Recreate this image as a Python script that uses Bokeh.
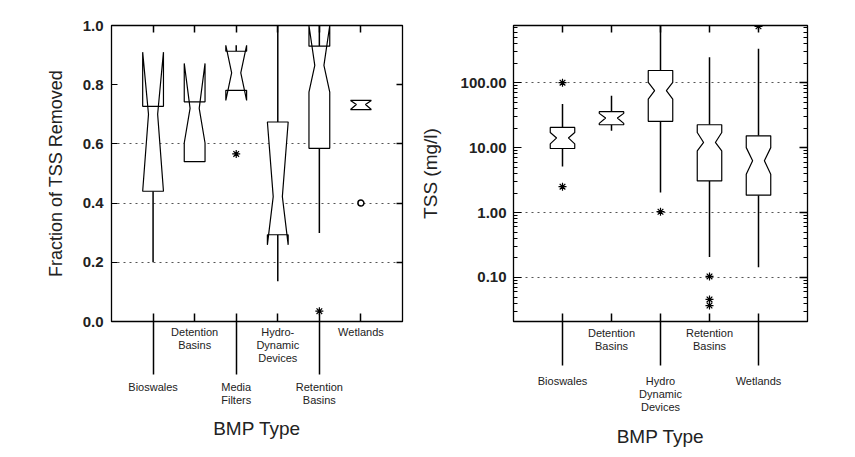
from bokeh.plotting import figure
from bokeh.layouts import row
from bokeh.models import (Range1d, FixedTicker, PrintfTickFormatter, LinearAxis,
                          LogAxis)
from bokeh.embed import file_html
from bokeh.resources import INLINE

FONT = "Liberation Sans"

# ---------------- Left panel data: fraction of TSS removed ----------------
left_types = ["Bioswales", "Detention\nBasins", "Media\nFilters",
              "Hydro-\nDynamic\nDevices", "Retention\nBasins", "Wetlands"]
left_q1 = [0.44, 0.54, 0.781, 0.293, 0.585, 0.716]
left_q3 = [0.727, 0.742, 0.913, 0.674, 0.93, 0.747]
left_med = [0.70, 0.72, 0.84, 0.422, 0.865, 0.733]
left_nlo = [0.44, 0.603, 0.747, 0.259, 0.775, 0.716]
left_nhi = [0.91, 0.872, 0.933, 0.674, 1.0, 0.747]
left_wlo = [0.20, 0.54, 0.781, 0.136, 0.299, 0.716]
left_whi = [0.727, 0.742, 0.933, 1.0, 1.0, 0.747]
left_star_cat = [3, 5]
left_star_val = [0.566, 0.035]
left_circ_cat = [6]
left_circ_val = [0.40]
left_yticks = [0.0, 0.2, 0.4, 0.6, 0.8, 1.0]

# ---------------- Right panel data: TSS (mg/l) ----------------
right_types = ["Bioswales", "Detention\nBasins", "Hydro\nDynamic\nDevices",
               "Retention\nBasins", "Wetlands"]
right_q1 = [9.7, 22.5, 25.4, 3.07, 1.85]
right_q3 = [20.5, 35.8, 154.0, 22.5, 15.2]
right_med = [14.1, 28.6, 75.7, 12.0, 6.3]
right_nlo = [11.4, 23.6, 56.0, 8.9, 3.9]
right_nhi = [17.1, 33.7, 101.0, 17.1, 10.0]
right_wlo = [5.1, 18.2, 2.03, 0.206, 0.144]
right_whi = [47.0, 63.0, 800.0, 247.0, 333.0]
right_star_cat = [1, 1, 3, 4, 4, 4, 5]
right_star_val = [2.5, 100.0, 1.03, 0.104, 0.046, 0.037, 738.0]
right_yticks = [0.1, 1.0, 10.0, 100.0]


def notch_shapes(q1, q3, med, nlo, nhi, w, nw):
    xs, ys = [], []
    for i, (a, b, m, lo, hi) in enumerate(zip(q1, q3, med, nlo, nhi)):
        c = i + 1
        xs.append([c - w, c - w, c - nw, c - w, c - w, c + w, c + w, c + nw, c + w, c + w])
        ys.append([a, lo, m, hi, b, b, hi, m, lo, a])
    return xs, ys


def style_common(p):
    p.outline_line_color = "black"
    p.outline_line_width = 1.3
    p.xgrid.visible = False
    p.ygrid.grid_line_color = "#555555"
    p.ygrid.grid_line_dash = "2 4"
    p.ygrid.grid_line_width = 1


def hidden_axis(cls, ticker, tick_in, tick_out, minor_in=0):
    ax = cls(ticker=ticker)
    ax.formatter = PrintfTickFormatter(format=" ")
    ax.major_label_text_font_size = "6px"
    ax.major_label_text_color = None
    ax.major_label_standoff = 0
    ax.major_tick_in = tick_in
    ax.major_tick_out = tick_out
    ax.minor_tick_in = minor_in
    ax.minor_tick_out = 0
    ax.major_tick_line_width = 1.5
    ax.axis_line_color = "black"
    return ax


def category_axes(p, types, line_len, near_standoff, far_standoff, title_standoff):
    cats = list(range(1, len(types) + 1))
    near = [c for c in cats if c % 2 == 0]
    far = [c for c in cats if c % 2 == 1]
    # axis next to the frame: short labels, long lines for the far labels (minor ticks)
    a = LinearAxis(ticker=FixedTicker(ticks=near, minor_ticks=far))
    a.major_label_overrides = {c: types[c - 1] for c in near}
    a.major_label_text_font = FONT
    a.major_label_text_font_size = "11px"
    a.major_label_text_color = "#222222"
    a.major_label_text_line_height = 1.1
    a.major_label_standoff = near_standoff - line_len
    a.major_tick_in = 8
    a.major_tick_out = 0
    a.major_tick_line_width = 1.5
    a.minor_tick_in = 8
    a.minor_tick_out = line_len
    a.minor_tick_line_width = 1.5
    a.minor_tick_line_color = "black"
    a.axis_line_color = "black"
    p.add_layout(a, "below")
    # second axis: the far labels and the axis title
    b = LinearAxis(ticker=FixedTicker(ticks=far))
    b.major_label_overrides = {c: types[c - 1] for c in far}
    b.major_label_text_font = FONT
    b.major_label_text_font_size = "11px"
    b.major_label_text_color = "#222222"
    b.major_label_text_line_height = 1.1
    b.major_label_standoff = far_standoff
    b.major_tick_in = 0
    b.major_tick_out = 0
    b.major_tick_line_color = None
    b.minor_tick_line_color = None
    b.axis_line_color = None
    b.axis_label = "BMP Type"
    b.axis_label_text_font = FONT
    b.axis_label_text_font_style = "normal"
    b.axis_label_text_font_size = "19px"
    b.axis_label_text_color = "#222222"
    b.axis_label_standoff = title_standoff
    p.add_layout(b, "below")
    return cats


# ======================= LEFT FIGURE =======================
p1 = figure(width=412, height=449, x_range=Range1d(0, 7), y_range=Range1d(0, 1),
            output_backend="svg", toolbar_location=None, x_axis_location=None,
            min_border_left=111, min_border_right=10, min_border_top=25,
            min_border_bottom=127)
style_common(p1)
p1.ygrid.ticker = FixedTicker(ticks=[0.2, 0.4, 0.6])

ya = p1.yaxis[0]
ya.ticker = FixedTicker(ticks=left_yticks)
ya.formatter = PrintfTickFormatter(format="%.1f")
ya.major_tick_in = 6
ya.major_tick_out = 0
ya.minor_tick_line_color = None
ya.major_label_standoff = 8
ya.major_label_text_font = FONT
ya.major_label_text_font_style = "bold"
ya.major_label_text_font_size = "15px"
ya.major_label_text_color = "#222222"
ya.axis_label = "Fraction of TSS Removed"
ya.axis_label_text_font = FONT
ya.axis_label_text_font_style = "normal"
ya.axis_label_text_font_size = "18px"
ya.axis_label_text_color = "#222222"
ya.axis_label_standoff = 14

cats1 = category_axes(p1, left_types, 53, 4, 14, 9)
p1.add_layout(hidden_axis(LinearAxis, FixedTicker(ticks=[0.2, 0.4, 0.6, 0.8]), 6, 0), "right")
p1.add_layout(hidden_axis(LinearAxis, FixedTicker(ticks=cats1), 7, 0), "above")

p1.segment(x0=cats1, y0=left_q3, x1=cats1, y1=left_whi, line_color="black", line_width=1.5)
p1.segment(x0=cats1, y0=left_q1, x1=cats1, y1=left_wlo, line_color="black", line_width=1.5)
xs, ys = notch_shapes(left_q1, left_q3, left_med, left_nlo, left_nhi, 0.25, 0.11)
p1.patches(xs, ys, fill_color="white", line_color="black", line_width=1.2)
p1.scatter(left_star_cat, left_star_val, marker="asterisk", size=8, line_color="black", line_width=1.2)
p1.scatter(left_circ_cat, left_circ_val, marker="circle", size=6, fill_color="white",
           line_color="black", line_width=1.5)

# ======================= RIGHT FIGURE =======================
p2 = figure(width=435, height=449, x_range=Range1d(0, 6), y_range=Range1d(0.021, 760),
            y_axis_type="log", output_backend="svg", toolbar_location=None,
            x_axis_location=None, min_border_left=101, min_border_right=40,
            min_border_top=25, min_border_bottom=127)
style_common(p2)
p2.ygrid.ticker = FixedTicker(ticks=[0.1, 1.0, 100.0])

minors = [m * 10.0 ** e for e in range(-2, 3) for m in range(2, 10)]
yb = p2.yaxis[0]
yb.ticker = FixedTicker(ticks=right_yticks, minor_ticks=minors)
yb.formatter = PrintfTickFormatter(format="%.2f")
yb.major_tick_in = 8
yb.major_tick_out = 0
yb.minor_tick_in = 4
yb.minor_tick_out = 0
yb.major_label_standoff = 7
yb.major_label_text_font = FONT
yb.major_label_text_font_style = "bold"
yb.major_label_text_font_size = "15px"
yb.major_label_text_color = "#222222"
yb.axis_label = "TSS (mg/l)"
yb.axis_label_text_font = FONT
yb.axis_label_text_font_style = "normal"
yb.axis_label_text_font_size = "19px"
yb.axis_label_text_color = "#222222"
yb.axis_label_standoff = 17

cats2 = category_axes(p2, right_types, 44, 5, 20, 10)
p2.add_layout(hidden_axis(LogAxis, FixedTicker(ticks=right_yticks, minor_ticks=minors), 8, 0, 4), "right")
p2.add_layout(hidden_axis(LinearAxis, FixedTicker(ticks=cats2), 7, 0), "above")

p2.segment(x0=cats2, y0=right_q3, x1=cats2, y1=right_whi, line_color="black", line_width=1.5)
p2.segment(x0=cats2, y0=right_q1, x1=cats2, y1=right_wlo, line_color="black", line_width=1.5)
xs, ys = notch_shapes(right_q1, right_q3, right_med, right_nlo, right_nhi, 0.25, 0.12)
p2.patches(xs, ys, fill_color="white", line_color="black", line_width=1.2)
p2.scatter(right_star_cat, right_star_val, marker="asterisk", size=8, line_color="black", line_width=1.2)

layout = row(p1, p2)
open("out.html", "w").write(file_html(layout, INLINE))
